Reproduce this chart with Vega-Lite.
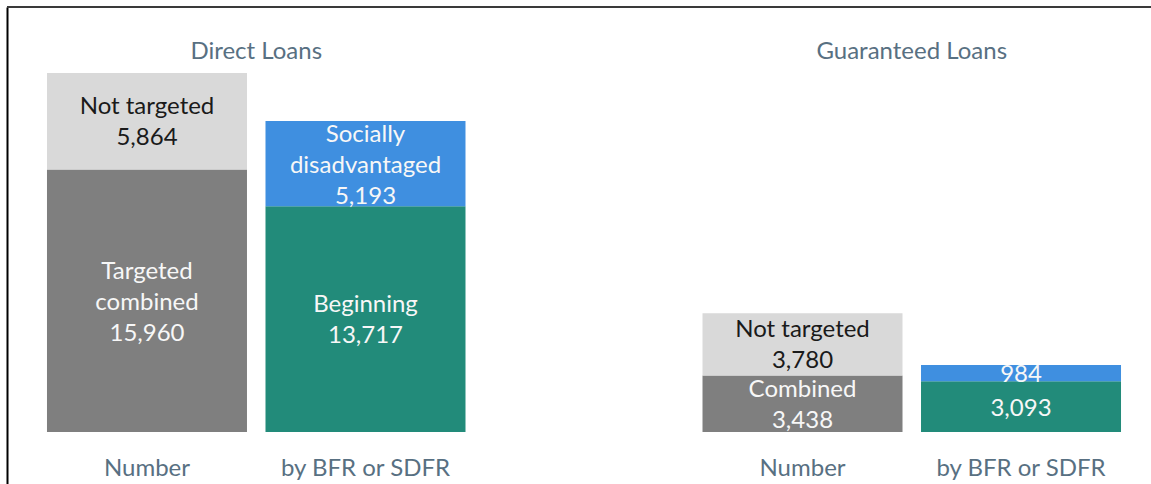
{
  "$schema": "https://vega.github.io/schema/vega-lite/v6.json",
  "autosize": "none",
  "padding": {"left": 7, "top": 7, "right": 0, "bottom": 0},
  "width": 1154,
  "height": 480,
  "background": "white",
  "config": {"view": {"stroke": null}, "font": "Lato"},
  "datasets": {
    "bars": [
      {"cat": "DN", "seg": "Targeted", "label": "Targeted\ncombined\n15,960", "value": 15960, "order": 1},
      {"cat": "DN", "seg": "Not targeted", "label": "Not targeted\n5,864", "value": 5864, "order": 2},
      {"cat": "DB", "seg": "Beginning", "label": "Beginning\n13,717", "value": 13717, "order": 1},
      {"cat": "DB", "seg": "Socially disadvantaged", "label": "Socially\ndisadvantaged\n5,193", "value": 5193, "order": 2},
      {"cat": "GN", "seg": "Targeted", "label": "Combined\n3,438", "value": 3438, "order": 1},
      {"cat": "GN", "seg": "Not targeted", "label": "Not targeted\n3,780", "value": 3780, "order": 2},
      {"cat": "GB", "seg": "Beginning", "label": "3,093", "value": 3093, "order": 1},
      {"cat": "GB", "seg": "Socially disadvantaged", "label": "984", "value": 984, "order": 2}
    ],
    "titles": [
      {"cat": "DN", "text": "Direct Loans"},
      {"cat": "GN", "text": "Guaranteed Loans"}
    ],
    "catlabels": [
      {"cat": "DN", "text": "Number"},
      {"cat": "DB", "text": "by BFR or SDFR"},
      {"cat": "GN", "text": "Number"},
      {"cat": "GB", "text": "by BFR or SDFR"}
    ]
  },
  "layer": [
    {
      "data": {"name": "bars"},
      "mark": {"type": "bar"},
      "encoding": {
        "x": {"field": "cat", "type": "nominal", "axis": null,
              "scale": {"domain": ["DN", "DB", "GAP", "GN", "GB"], "paddingInner": 0.0847, "paddingOuter": 0.183}},
        "y": {"field": "value", "type": "quantitative", "stack": "zero",
              "scale": {"domain": [-3343, 25836], "nice": false, "zero": false},
              "axis": {"domain": true, "domainColor": "#000000", "domainWidth": 2, "ticks": false, "labels": false, "grid": false, "title": null}},
        "order": {"field": "order", "type": "quantitative"},
        "color": {"field": "seg", "type": "nominal", "legend": null,
                  "scale": {"domain": ["Targeted", "Not targeted", "Beginning", "Socially disadvantaged"],
                            "range": ["#7f7f7f", "#d9d9d9", "#228b7a", "#3f8fe0"]}}
      }
    },
    {
      "data": {"name": "bars"},
      "transform": [
        {"stack": "value", "groupby": ["cat"], "sort": [{"field": "order"}], "as": ["v0", "v1"]},
        {"calculate": "(datum.v0 + datum.v1) / 2", "as": "mid"},
        {"calculate": "length(split(datum.label, '\\n'))", "as": "nlines"}
      ],
      "layer": [
        {
          "transform": [{"filter": "datum.nlines == 3"}],
          "mark": {"type": "text", "lineBreak": "\n", "lineHeight": 31, "fontSize": 24, "baseline": "middle", "align": "center", "dy": -29},
          "encoding": {
            "x": {"field": "cat", "type": "nominal"},
            "y": {"field": "mid", "type": "quantitative"},
            "text": {"field": "label", "type": "nominal"},
            "color": {"condition": {"test": "datum.seg === 'Not targeted'", "value": "#1a1a1a"}, "value": "#f7f7f7"}
          }
        },
        {
          "transform": [{"filter": "datum.nlines == 2"}],
          "mark": {"type": "text", "lineBreak": "\n", "lineHeight": 31, "fontSize": 24, "baseline": "middle", "align": "center", "dy": -14},
          "encoding": {
            "x": {"field": "cat", "type": "nominal"},
            "y": {"field": "mid", "type": "quantitative"},
            "text": {"field": "label", "type": "nominal"},
            "color": {"condition": {"test": "datum.seg === 'Not targeted'", "value": "#1a1a1a"}, "value": "#f7f7f7"}
          }
        },
        {
          "transform": [{"filter": "datum.nlines == 1"}],
          "mark": {"type": "text", "lineBreak": "\n", "lineHeight": 31, "fontSize": 24, "baseline": "middle", "align": "center", "dy": 2},
          "encoding": {
            "x": {"field": "cat", "type": "nominal"},
            "y": {"field": "mid", "type": "quantitative"},
            "text": {"field": "label", "type": "nominal"},
            "color": {"condition": {"test": "datum.seg === 'Not targeted'", "value": "#1a1a1a"}, "value": "#f7f7f7"}
          }
        }
      ]
    },
    {
      "data": {"name": "titles"},
      "mark": {"type": "text", "fontSize": 24, "color": "#587082", "baseline": "middle", "align": "center"},
      "encoding": {
        "x": {"field": "cat", "type": "nominal", "bandPosition": 1.0463},
        "y": {"datum": 23100},
        "text": {"field": "text", "type": "nominal"}
      }
    },
    {
      "data": {"name": "catlabels"},
      "mark": {"type": "text", "fontSize": 24, "color": "#587082", "baseline": "middle", "align": "center"},
      "encoding": {
        "x": {"field": "cat", "type": "nominal"},
        "y": {"datum": -2250},
        "text": {"field": "text", "type": "nominal"}
      }
    },
    {
      "data": {"values": [{}]},
      "mark": {"type": "rule", "color": "#3a3a3a", "strokeWidth": 2},
      "encoding": {"y": {"datum": 25836}}
    }
  ]
}
